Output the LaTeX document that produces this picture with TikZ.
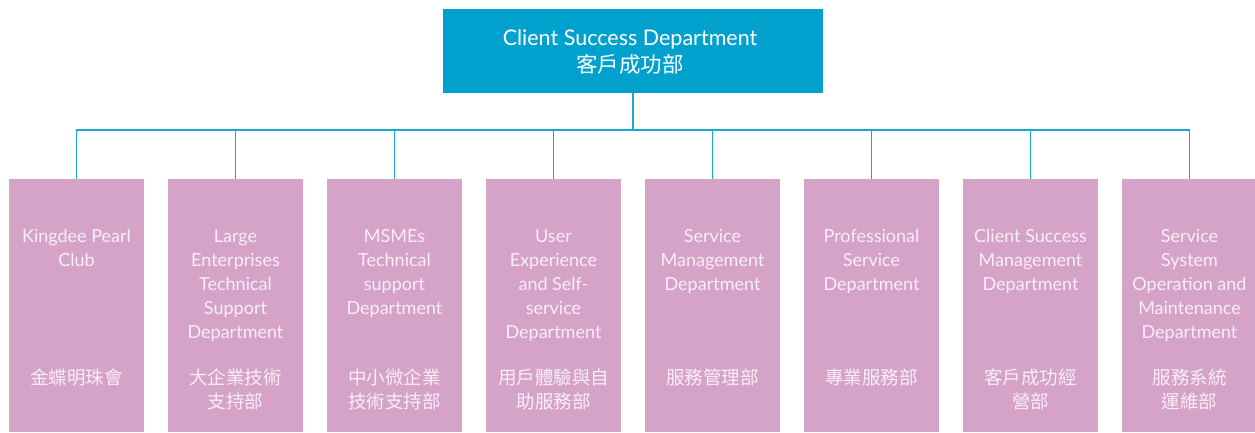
\documentclass[tikz,border=0pt]{standalone}
\usepackage{fontspec}
\setmainfont{Lato}
\newfontfamily\cjkf{Noto Sans CJK TC}
\definecolor{topblue}{HTML}{00A2CD}
\definecolor{linkblue}{HTML}{1AA6D2}
\definecolor{pinkbox}{HTML}{D5A2C8}
\definecolor{softwhite}{HTML}{FAEEF7}
\begin{document}
\begin{tikzpicture}[x=1pt,y=-1pt,
  topbox/.style={fill=topblue,minimum width=380pt,minimum height=84pt,inner sep=0pt},
  deptbox/.style={fill=pinkbox,minimum width=135pt,minimum height=253pt,inner sep=0pt},
  entext/.style={text=softwhite,align=center,font=\fontsize{18}{24}\selectfont,anchor=north,inner sep=0pt},
  zhtext/.style={text=softwhite,align=center,font=\cjkf\fontsize{18.5}{24}\selectfont,anchor=north,inner sep=0pt},
  link/.style={draw=linkblue,line width=1.5pt}]
\useasboundingbox (0,0) rectangle (1255,432);
\node[topbox] (top) at (633,51) {};
\node[text=white,align=center,font=\fontsize{21.5}{27}\selectfont,inner sep=0pt] (toptext) at (630,52)
  {Client Success Department\\{\cjkf 客戶成功部}};
\coordinate (hub) at (633,130);
\foreach \i/\x in {1/76.5,2/235.5,3/394.5,4/553.5,5/712.5,6/871.5,7/1030.5,8/1189.5}{
  \node[deptbox] (b\i) at (\x,305.5) {};
}
\draw[link] (top.south) -- (hub);
\foreach \i in {1,...,8}{
  \draw[link] (hub) -| (b\i.north);
}
\node[entext] (e1) at (76.5,229.5) {Kingdee Pearl\\Club};
\node[entext] (e2) at (235.5,229.5) {Large\\Enterprises\\Technical\\Support\\Department};
\node[entext] (e3) at (394.5,229.5) {MSMEs\\Technical\\support\\Department};
\node[entext] (e4) at (553.5,229.5) {User\\Experience\\and Self-\\service\\Department};
\node[entext] (e5) at (712.5,229.5) {Service\\Management\\Department};
\node[entext] (e6) at (871.5,229.5) {Professional\\Service\\Department};
\node[entext] (e7) at (1030.5,229.5) {Client Success\\Management\\Department};
\node[entext] (e8) at (1189.5,229.5) {Service\\System\\Operation and\\Maintenance\\Department};
\node[zhtext] (z1) at (76.5,369) {金蝶明珠會};
\node[zhtext] (z2) at (235.5,369) {大企業技術\\支持部};
\node[zhtext] (z3) at (394.5,369) {中小微企業\\技術支持部};
\node[zhtext] (z4) at (553.5,369) {用戶體驗與自\\助服務部};
\node[zhtext] (z5) at (712.5,369) {服務管理部};
\node[zhtext] (z6) at (871.5,369) {專業服務部};
\node[zhtext] (z7) at (1030.5,369) {客戶成功經\\營部};
\node[zhtext] (z8) at (1189.5,369) {服務系統\\運維部};
\end{tikzpicture}
\end{document}
